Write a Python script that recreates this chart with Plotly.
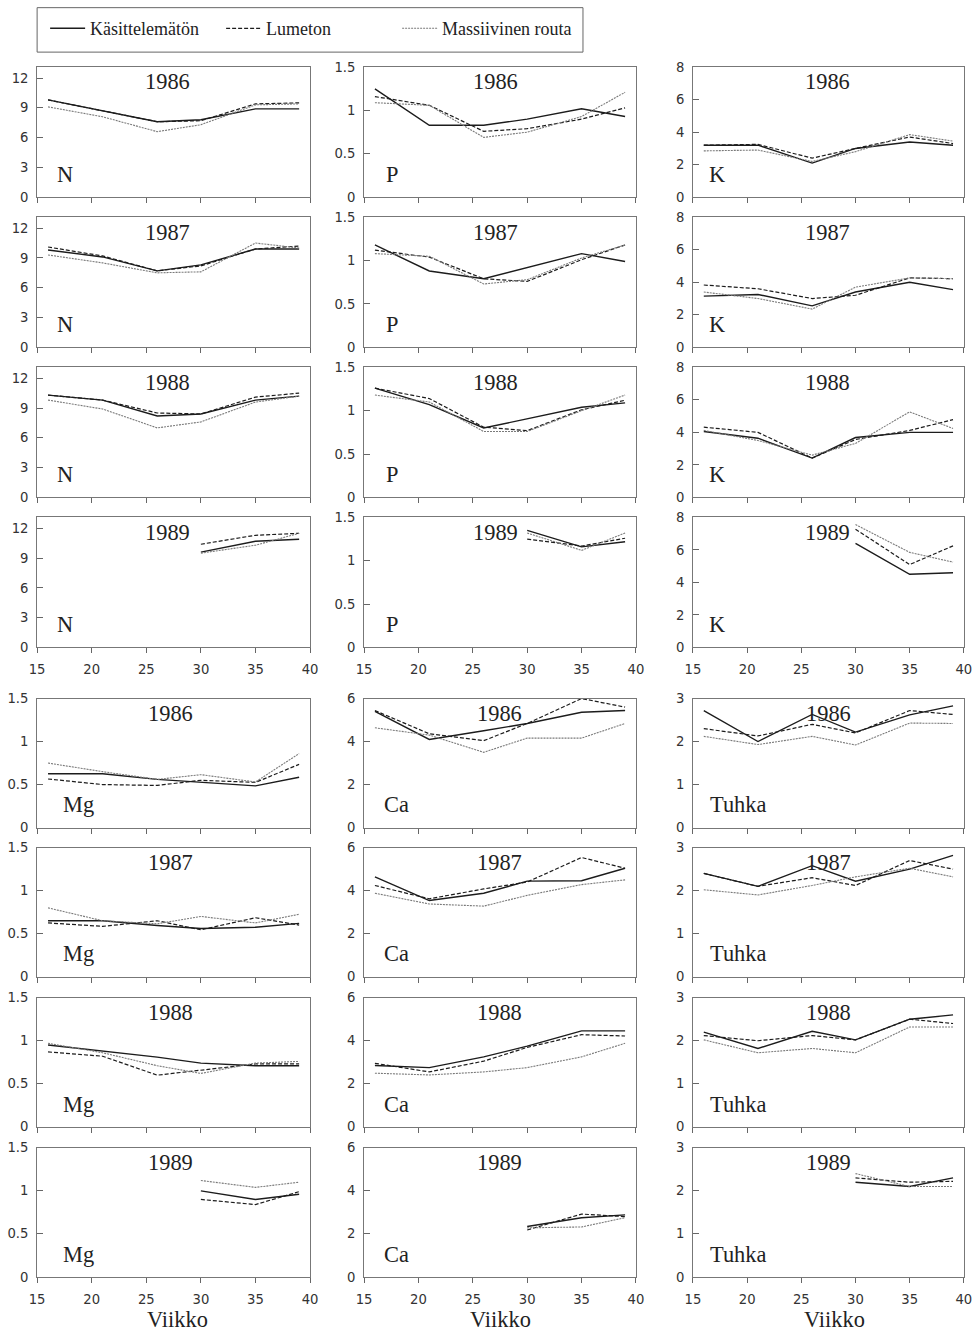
import plotly.graph_objects as go

# Sampling weeks ("Viikko")
weeks = [16, 21, 26, 30, 35, 39]
weeks_1989 = [30, 35, 39]
years = ["1986", "1987", "1988", "1989"]
treatments = ["Käsittelemätön", "Lumeton", "Massiivinen routa"]

# Concentrations per treatment, one list per year (1986, 1987, 1988, 1989)
n_kasit = [[9.8, 8.7, 7.6, 7.8, 8.9, 8.9],
           [9.8, 9.1, 7.7, 8.3, 9.9, 9.9],
           [10.3, 9.8, 8.2, 8.4, 9.8, 10.2],
           [9.6, 10.7, 10.9]]
n_lumeton = [[9.8, 8.7, 7.6, 7.7, 9.4, 9.5],
             [10.1, 9.2, 7.7, 8.2, 9.9, 10.2],
             [10.3, 9.8, 8.5, 8.4, 10.1, 10.5],
             [10.4, 11.3, 11.5]]
n_routa = [[9.1, 8.1, 6.6, 7.3, 9.3, 9.4],
           [9.3, 8.5, 7.5, 7.6, 10.5, 10.0],
           [9.8, 8.9, 7.0, 7.6, 9.6, 10.2],
           [9.5, 10.3, 11.5]]

p_kasit = [[1.25, 0.83, 0.83, 0.90, 1.02, 0.93],
           [1.18, 0.88, 0.79, 0.92, 1.08, 0.99],
           [1.26, 1.07, 0.80, 0.91, 1.04, 1.09],
           [1.35, 1.16, 1.22]]
p_lumeton = [[1.16, 1.06, 0.76, 0.79, 0.90, 1.03],
             [1.12, 1.04, 0.79, 0.76, 1.01, 1.18],
             [1.26, 1.14, 0.81, 0.77, 1.01, 1.12],
             [1.25, 1.17, 1.26]]
p_routa = [[1.09, 1.06, 0.69, 0.75, 0.93, 1.21],
           [1.08, 1.05, 0.73, 0.78, 1.03, 1.18],
           [1.18, 1.10, 0.76, 0.76, 1.00, 1.18],
           [1.32, 1.12, 1.32]]

k_kasit = [[3.2, 3.2, 2.1, 3.0, 3.4, 3.2],
           [3.15, 3.25, 2.55, 3.4, 4.0, 3.55],
           [4.05, 3.64, 2.42, 3.68, 4.0, 4.0],
           [6.4, 4.5, 4.6]]
k_lumeton = [[3.2, 3.25, 2.4, 3.0, 3.7, 3.3],
             [3.83, 3.6, 3.0, 3.2, 4.27, 4.22],
             [4.32, 4.0, 2.42, 3.56, 4.12, 4.78],
             [7.27, 5.1, 6.25]]
k_routa = [[2.85, 2.9, 2.2, 2.8, 3.85, 3.45],
           [3.4, 3.0, 2.35, 3.7, 4.27, 4.22],
           [4.12, 3.5, 2.6, 3.32, 5.26, 4.24],
           [7.56, 5.85, 5.25]]

mg_kasit = [[0.625, 0.625, 0.56, 0.525, 0.485, 0.585],
            [0.65, 0.65, 0.595, 0.56, 0.575, 0.62],
            [0.95, 0.88, 0.81, 0.74, 0.71, 0.71],
            [1.0, 0.90, 0.96]]
mg_lumeton = [[0.565, 0.50, 0.49, 0.55, 0.525, 0.735],
              [0.625, 0.585, 0.65, 0.545, 0.685, 0.60],
              [0.87, 0.82, 0.60, 0.66, 0.73, 0.73],
              [0.90, 0.84, 0.99]]
mg_routa = [[0.75, 0.65, 0.56, 0.615, 0.53, 0.86],
            [0.80, 0.65, 0.615, 0.70, 0.625, 0.725],
            [0.97, 0.86, 0.71, 0.62, 0.74, 0.76],
            [1.12, 1.04, 1.10]]

ca_kasit = [[5.4, 4.1, 4.5, 4.84, 5.36, 5.44],
            [4.64, 3.54, 3.88, 4.44, 4.46, 5.04],
            [2.85, 2.75, 3.25, 3.75, 4.46, 4.46],
            [2.34, 2.75, 2.88]]
ca_lumeton = [[5.44, 4.36, 4.04, 4.84, 6.0, 5.6],
              [4.24, 3.62, 4.08, 4.4, 5.54, 5.04],
              [2.95, 2.55, 3.05, 3.69, 4.28, 4.22],
              [2.18, 2.92, 2.8]]
ca_routa = [[4.64, 4.3, 3.5, 4.16, 4.16, 4.84],
            [3.88, 3.38, 3.28, 3.78, 4.28, 4.5],
            [2.49, 2.41, 2.55, 2.75, 3.25, 3.88],
            [2.28, 2.32, 2.75]]

tuhka_kasit = [[2.72, 2.0, 2.63, 2.22, 2.62, 2.83],
               [2.4, 2.1, 2.58, 2.22, 2.5, 2.82],
               [2.2, 1.82, 2.22, 2.02, 2.5, 2.6],
               [2.2, 2.1, 2.3]]
tuhka_lumeton = [[2.3, 2.13, 2.4, 2.2, 2.72, 2.63],
                 [2.4, 2.1, 2.3, 2.12, 2.7, 2.5],
                 [2.12, 2.0, 2.12, 2.02, 2.5, 2.4],
                 [2.3, 2.2, 2.22]]
tuhka_routa = [[2.12, 1.93, 2.12, 1.92, 2.43, 2.42],
               [2.02, 1.9, 2.12, 2.32, 2.52, 2.32],
               [2.02, 1.72, 1.82, 1.72, 2.32, 2.32],
               [2.4, 2.1, 2.1]]

# Element label, series and y-axis scale for each column of the two blocks
elements = ["N", "P", "K", "Mg", "Ca", "Tuhka"]
element_series = {
    "N": (n_kasit, n_lumeton, n_routa),
    "P": (p_kasit, p_lumeton, p_routa),
    "K": (k_kasit, k_lumeton, k_routa),
    "Mg": (mg_kasit, mg_lumeton, mg_routa),
    "Ca": (ca_kasit, ca_lumeton, ca_routa),
    "Tuhka": (tuhka_kasit, tuhka_lumeton, tuhka_routa),
}
y_ticks = {
    "N": ([0, 3, 6, 9, 12], ["0", "3", "6", "9", "12"], 13.1),
    "P": ([0, 0.5, 1, 1.5], ["0", "0.5", "1", "1.5"], 1.5),
    "K": ([0, 2, 4, 6, 8], ["0", "2", "4", "6", "8"], 8),
    "Mg": ([0, 0.5, 1, 1.5], ["0", "0.5", "1", "1.5"], 1.5),
    "Ca": ([0, 2, 4, 6], ["0", "2", "4", "6"], 6),
    "Tuhka": ([0, 1, 2, 3], ["0", "1", "2", "3"], 3),
}
x_ticks = [15, 20, 25, 30, 35, 40]

# ---- page geometry ----
# The figure sits 8px inside the page body and the page is shown fitted to
# the window, so target page positions are converted to figure pixels.
W, H = 977, 1335
BODY = 8
SX, SY = W / (W + 2 * BODY), H / (H + 2 * BODY)
col_px = [(37, 310), (364, 636), (693, 964)]
row_px = [(68, 198), (218, 348), (368, 498), (518, 648),
          (699, 828), (848, 977), (998, 1127), (1148, 1277)]
label_dx = {"N": 18, "P": 20, "K": 14, "Mg": 24, "Ca": 18, "Tuhka": 15}
year_x = {"N": 0.476, "P": 0.485, "K": 0.498, "Mg": 0.487, "Ca": 0.50, "Tuhka": 0.50}
title_dx = [4, 1, 6]


def fx(p):
    return p / SX - BODY


def fy(p):
    return p / SY - BODY


def px_x(p):
    return fx(p) / W


def px_y(p):
    return 1 - fy(p) / H


def fs(size):
    return round(size / SX, 1)


line_styles = [
    dict(color="#1c1c1c", width=1.4, dash="solid"),
    dict(color="#1c1c1c", width=1.2, dash="4px,2px"),
    dict(color="#7a7a7a", width=1.1, dash="2px,1px"),
]

serif = "Liberation Serif, Times New Roman, serif"
sans = "DejaVu Sans, sans-serif"
tick_font = dict(family=sans, size=fs(13), color="#333")
text_font = dict(family=serif, size=fs(22), color="#222")

fig = go.Figure()
layout = {}
annotations = []
n_panels = 24

for r in range(8):
    block = 0 if r < 4 else 1
    yi = r % 4
    for c in range(3):
        k = r * 3 + c + 1
        sfx = "" if k == 1 else str(k)
        el = elements[block * 3 + c]
        tickvals, ticktext, ymax = y_ticks[el]
        x0, x1 = col_px[c]
        top, bot = row_px[r]
        w_px = fx(x1) - fx(x0)
        h_px = fy(bot) - fy(top)
        x_dom = [px_x(x0), px_x(x1)]

        layout["xaxis" + sfx] = dict(
            domain=x_dom, anchor="y" + sfx, range=[15, 40],
            tickvals=x_ticks, ticktext=[str(v) for v in x_ticks],
            showticklabels=(yi == 3), ticks="outside", ticklen=5,
            tickcolor="#666", ticklabelstandoff=5,
            showline=True, linecolor="#777", linewidth=1, mirror=True,
            showgrid=False, zeroline=False, tickfont=tick_font,
        )
        # companion axis giving the inner half of the crossing tick marks
        layout[f"xaxis{k + n_panels}"] = dict(
            domain=x_dom, anchor="y" + sfx, overlaying="x" + sfx,
            range=[15, 40], tickvals=x_ticks, showticklabels=False,
            ticks="inside", ticklen=5, tickcolor="#666",
            showline=False, showgrid=False, zeroline=False,
        )
        layout["yaxis" + sfx] = dict(
            domain=[px_y(bot), px_y(top)], anchor="x" + sfx, range=[0, ymax],
            tickvals=tickvals, ticktext=ticktext,
            ticks="inside", ticklen=6, tickcolor="#666", ticklabelstandoff=5,
            showline=True, linecolor="#777", linewidth=1, mirror=True,
            showgrid=False, zeroline=False, tickfont=tick_font,
        )

        xs = weeks_1989 if yi == 3 else weeks
        for t, series in enumerate(element_series[el]):
            fig.add_trace(go.Scatter(
                x=xs, y=series[yi], mode="lines", name=treatments[t],
                line=line_styles[t], xaxis="x" + sfx, yaxis="y" + sfx,
                showlegend=(k == 1), hoverinfo="x+y+name",
            ))

        annotations.append(dict(
            text=years[yi], xref=f"x{sfx} domain", yref=f"y{sfx} domain",
            x=year_x[el], y=1 - 15 / h_px, xanchor="center", yanchor="middle",
            showarrow=False, font=text_font,
        ))
        annotations.append(dict(
            text=el, xref=f"x{sfx} domain", yref=f"y{sfx} domain",
            x=label_dx[el] / w_px, y=23 / h_px,
            xanchor="left", yanchor="middle",
            showarrow=False, font=text_font,
        ))

# x-axis title under each bottom column
for c in range(3):
    x0, x1 = col_px[c]
    annotations.append(dict(
        text="Viikko", xref="paper", yref="paper",
        x=px_x((x0 + x1) / 2 + title_dx[c]), y=px_y(1320),
        xanchor="center", yanchor="middle",
        showarrow=False, font=text_font,
    ))

fig.update_layout(
    **layout,
    width=W, height=H,
    margin=dict(l=0, r=0, t=0, b=0),
    paper_bgcolor="white", plot_bgcolor="white",
    annotations=annotations,
    showlegend=True,
    legend=dict(
        orientation="h", x=px_x(45), y=px_y(11), xanchor="left", yanchor="top",
        entrywidth=126, entrywidthmode="pixels", itemwidth=35,
        font=dict(family=serif, size=18, color="#222"),
        bgcolor="rgba(0,0,0,0)", borderwidth=0,
    ),
    shapes=[dict(
        type="rect", xref="paper", yref="paper",
        x0=px_x(37), x1=px_x(583), y0=px_y(53), y1=min(px_y(8), 0.9995),
        line=dict(color="#666", width=1),
    )],
)

fig.write_html("out.html")
